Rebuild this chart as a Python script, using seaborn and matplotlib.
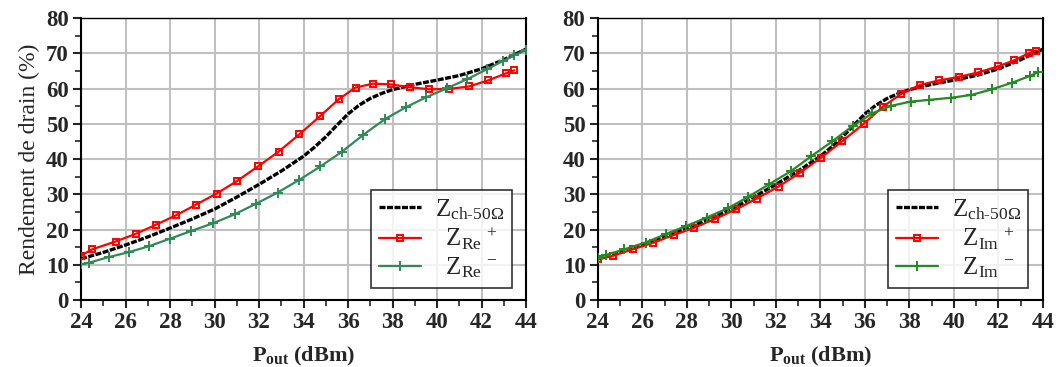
import pandas as pd
import seaborn as sns
import matplotlib.pyplot as plt
from matplotlib.ticker import MultipleLocator

# Données (Pout en dBm, rendement en %)
ref_x = [24, 25, 26, 27, 28, 29, 30, 31, 32, 33, 34, 34.5, 35, 35.5, 36, 36.5, 37, 37.5, 38, 39, 40, 41, 42, 43, 44]
ref_y = [11.7, 13.5, 15.6, 17.9, 20.4, 23.0, 25.8, 29.2, 32.8, 36.6, 40.8, 43.4, 46.3, 49.6, 52.8, 55.3, 57.2, 58.6, 59.7, 61.2, 62.4, 63.7, 65.6, 68.2, 71.2]

re_plus_x = [24.0, 24.51, 25.55, 26.45, 27.35, 28.26, 29.18, 30.09, 31.02, 31.95, 32.88, 33.81, 34.73,
             35.59, 36.34, 37.13, 37.92, 38.77, 39.66, 40.54, 41.43, 42.29, 43.09, 43.48]
re_plus_y = [12.6, 14.4, 16.6, 18.75, 21.3, 24.0, 27.1, 30.2, 33.8, 37.9, 42.1, 47.0, 52.1,
             57.0, 60.3, 61.4, 61.2, 60.4, 59.8, 59.9, 60.6, 62.3, 64.3, 65.2]

re_minus_x = [24.0, 24.36, 25.26, 26.16, 27.07, 28.0, 28.96, 29.94, 30.9, 31.86, 32.84, 33.81, 34.76,
              35.73, 36.67, 37.65, 38.6, 39.5, 40.45, 41.36, 42.25, 42.95, 43.46, 44.0]
re_minus_y = [10.1, 10.6, 12.2, 13.6, 15.3, 17.4, 19.6, 21.8, 24.3, 27.3, 30.5, 34.1, 37.9,
              42.1, 46.8, 51.3, 54.7, 57.5, 60.1, 62.7, 65.5, 67.8, 69.4, 71.0]

im_plus_x = [24.0, 24.66, 25.57, 26.47, 27.4, 28.32, 29.27, 30.2, 31.15, 32.12, 33.08, 34.03, 34.99,
             35.94, 36.82, 37.63, 38.47, 39.31, 40.21, 41.1, 41.98, 42.7, 43.39, 43.7]
im_plus_y = [11.5, 12.5, 14.4, 16.2, 18.4, 20.5, 23.0, 25.7, 28.8, 32.2, 36.1, 40.4, 45.1,
             50.0, 54.9, 58.5, 61.0, 62.3, 63.3, 64.6, 66.3, 68.0, 70.1, 70.8]

im_minus_x = [24.0, 24.38, 25.19, 26.14, 27.05, 27.97, 28.89, 29.83, 30.76, 31.71, 32.66, 33.59, 34.53,
              35.45, 36.34, 37.18, 38.05, 38.89, 39.88, 40.79, 41.71, 42.63, 43.42, 43.77]
im_minus_y = [12.0, 12.8, 14.4, 16.3, 18.7, 21.0, 23.4, 26.0, 29.3, 32.9, 36.5, 40.8, 45.0,
              49.4, 53.0, 55.1, 56.3, 56.8, 57.4, 58.2, 59.8, 61.7, 63.6, 64.6]

sns.set_style("ticks")
plt.rcParams['font.family'] = ['Liberation Serif', 'DejaVu Serif']
plt.rcParams['mathtext.fontset'] = 'custom'
plt.rcParams['mathtext.rm'] = 'Liberation Serif'
plt.rcParams['mathtext.it'] = 'Liberation Serif'
plt.rcParams['mathtext.bf'] = 'Liberation Serif:bold'


def tracer(ax, plus_x, plus_y, minus_x, minus_y, nom, vert):
    ax.grid(True, color='#c0c0c0', linewidth=1.5, zorder=0)
    ax.set_axisbelow(True)

    sns.lineplot(x=ref_x, y=ref_y, ax=ax, color='black', linewidth=2.4,
                 linestyle=(0, (1.8, 0.45)), label=r'$Z_{\mathrm{ch\text{-}50\Omega}}$', zorder=3)
    sns.lineplot(x=plus_x, y=plus_y, ax=ax, color='red', linewidth=1.6, marker='s',
                 markersize=5, markerfacecolor='none', markeredgecolor='red', markeredgewidth=1.4,
                 label=r'$\;\;Z_{\mathrm{' + nom + r'}}{}^{\,+}$', zorder=4)
    sns.lineplot(x=minus_x, y=minus_y, ax=ax, color=vert, linewidth=1.6, marker='+',
                 markersize=6.5, markeredgecolor=vert, markeredgewidth=1.4,
                 label=r'$\;\;Z_{\mathrm{' + nom + r'}}{}^{\,-}$', zorder=4)

    ax.set_xlim(24, 44)
    ax.set_ylim(0, 80)
    ax.xaxis.set_major_locator(MultipleLocator(2))
    ax.xaxis.set_minor_locator(MultipleLocator(1))
    ax.yaxis.set_major_locator(MultipleLocator(10))
    ax.yaxis.set_minor_locator(MultipleLocator(5))
    ax.tick_params(which='major', direction='out', length=6, width=1.5, labelsize=16.5, pad=3)
    ax.tick_params(which='minor', direction='out', length=4, width=1.2)
    for lab in ax.get_xticklabels() + ax.get_yticklabels():
        lab.set_fontweight('bold')
    for s in ax.spines.values():
        s.set_color('black')
        s.set_linewidth(1.5)
    ax.spines['top'].set_linewidth(1.0)
    ax.set_xlabel(r'$\mathbf{P}_{\mathbf{out}}$ (dBm)', fontsize=16, fontweight='bold', labelpad=8)

    leg = ax.legend(loc='lower left', bbox_to_anchor=(0.652, 0.043),
                    fontsize=18, frameon=True, fancybox=False, handlelength=1.7,
                    handletextpad=0.55, borderpad=0.3, labelspacing=0.15, borderaxespad=0)
    leg.get_frame().set_edgecolor('black')
    leg.get_frame().set_linewidth(1.2)
    leg.set_zorder(10)


fig = plt.figure(figsize=(10.62, 3.67), dpi=100)
ax1 = fig.add_axes([0.0763, 0.1826, 0.419, 0.768])
ax2 = fig.add_axes([0.563, 0.1826, 0.419, 0.768])

tracer(ax1, re_plus_x, re_plus_y, re_minus_x, re_minus_y, 'Re', '#2e8b57')
tracer(ax2, im_plus_x, im_plus_y, im_minus_x, im_minus_y, 'Im', '#228b22')

ax1.set_ylabel('Rendement de drain (%)', fontsize=17, labelpad=4)
ax2.set_ylabel('')

fig.savefig('out.png', dpi=100)
